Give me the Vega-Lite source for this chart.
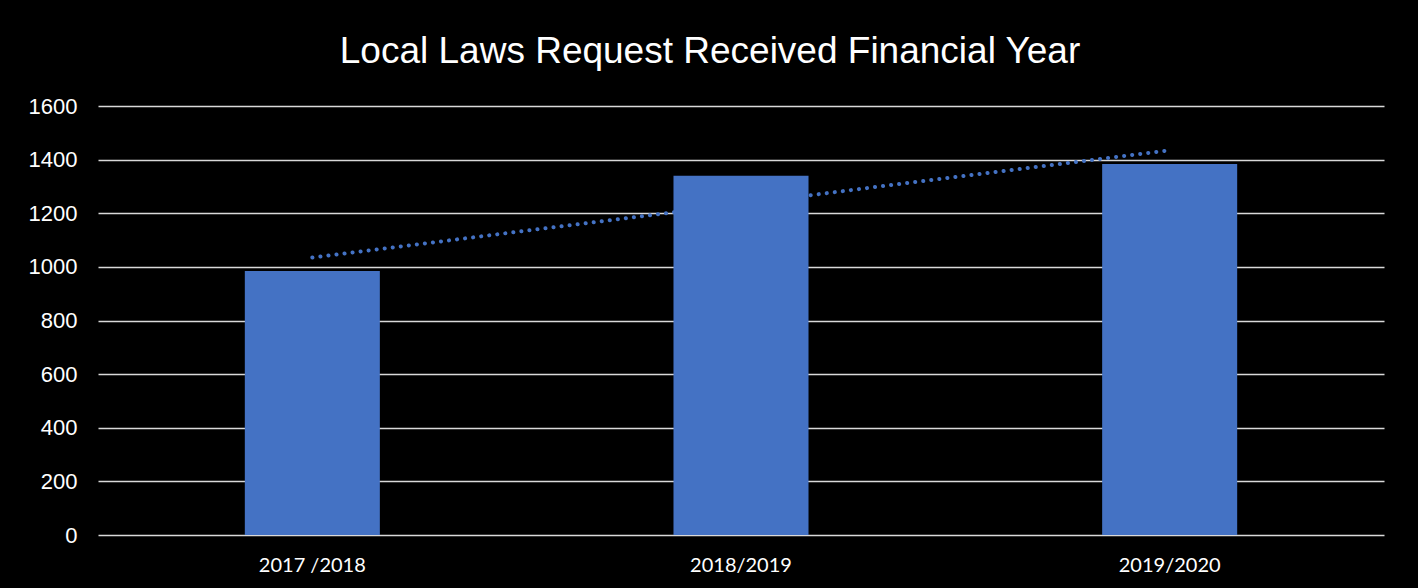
{
  "$schema": "https://vega.github.io/schema/vega-lite/v6.json",
  "width": 1286,
  "height": 429,
  "autosize": {"type": "none"},
  "padding": {"left": 98, "top": 106, "right": 34, "bottom": 53},
  "background": "#000000",
  "title": {
    "text": "Local Laws Request Received Financial Year",
    "color": "#ffffff",
    "font": "Liberation Sans",
    "fontSize": 37,
    "fontWeight": "normal",
    "offset": 24,
    "dx": -31,
    "anchor": "middle"
  },
  "data": {
    "values": [
      {"year": "2017 /2018", "requests": 985, "trend": 1035},
      {"year": "2018/2019", "requests": 1340, "trend": 1235},
      {"year": "2019/2020", "requests": 1384, "trend": 1435}
    ]
  },
  "config": {
    "view": {"stroke": null},
    "axis": {"grid": false, "domain": false, "ticks": false}
  },
  "encoding": {
    "x": {
      "field": "year",
      "type": "nominal",
      "sort": null,
      "scale": {"paddingInner": 0.685, "paddingOuter": 0.3425},
      "axis": {
        "title": null,
        "labelAngle": 0,
        "labelColor": "#ffffff",
        "labelFont": "Lato",
        "labelFontSize": 20,
        "labelPadding": 20
      }
    }
  },
  "layer": [
    {
      "mark": {
        "type": "line",
        "color": "#4472C4",
        "strokeWidth": 4,
        "strokeDash": [0.1, 8],
        "strokeCap": "round"
      },
      "encoding": {
        "y": {
          "field": "trend",
          "type": "quantitative",
          "scale": {"domain": [0, 1600], "nice": false},
          "axis": {
            "title": null,
            "format": "d",
            "values": [0, 200, 400, 600, 800, 1000, 1200, 1400, 1600],
            "grid": true,
            "gridColor": "#d9d9d9",
            "gridWidth": 1.5,
            "labelColor": "#ffffff",
            "labelFont": "Liberation Sans",
            "labelFontSize": 22,
            "labelPadding": 21
          }
        }
      }
    },
    {
      "mark": {"type": "bar", "color": "#4472C4"},
      "encoding": {
        "y": {"field": "requests", "type": "quantitative"}
      }
    }
  ]
}
